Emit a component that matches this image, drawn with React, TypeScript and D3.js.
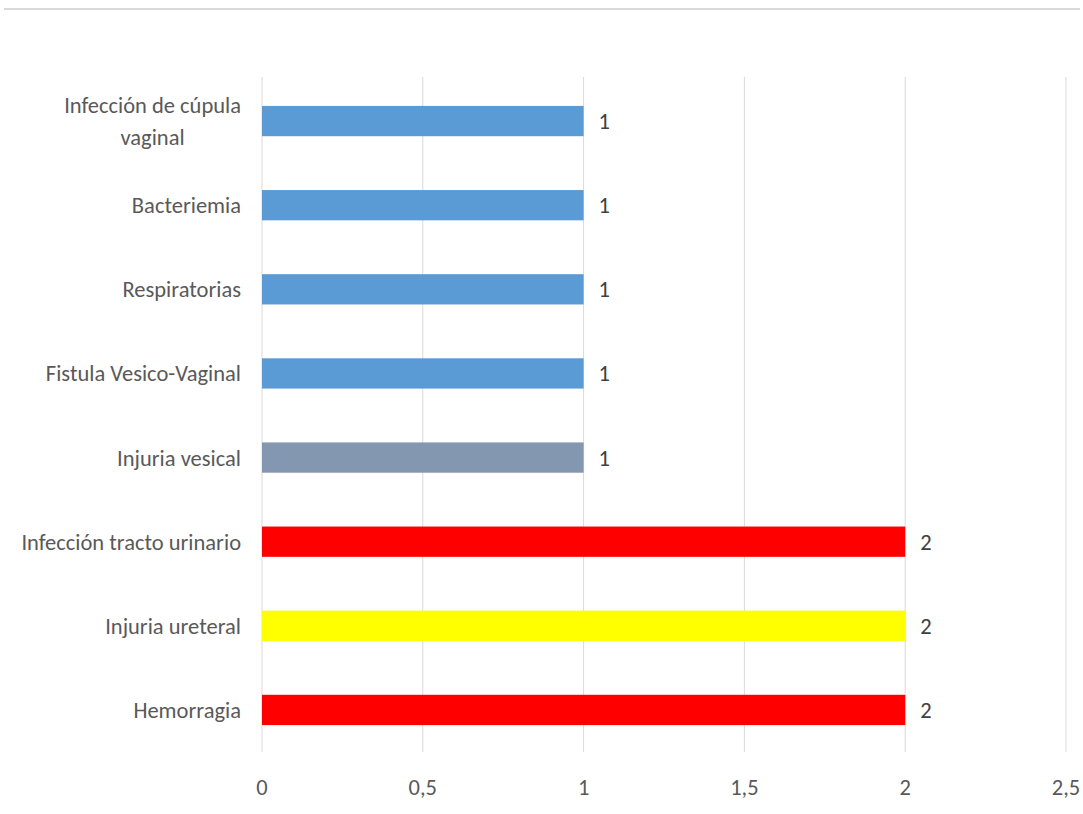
import React, { useEffect, useRef } from "react";
import * as d3 from "d3";

const categories = [
  "Infección de cúpula vaginal",
  "Bacteriemia",
  "Respiratorias",
  "Fistula Vesico-Vaginal",
  "Injuria vesical",
  "Infección tracto urinario",
  "Injuria ureteral",
  "Hemorragia",
];
const values = [1, 1, 1, 1, 1, 2, 2, 2];
const barColors = ["#5B9BD5", "#5B9BD5", "#5B9BD5", "#5B9BD5", "#8497B0", "#FF0000", "#FFFF00", "#FF0000"];
const ticks = [0, 0.5, 1, 1.5, 2, 2.5];

const W = 1083;
const H = 814;
const FONT = "Carlito, Calibri, Lato, sans-serif";
const FS = 22.5;

export default function App() {
  const ref = useRef<SVGSVGElement>(null);
  useEffect(() => {
    const svg = d3.select(ref.current);
    svg.selectAll("*").remove();
    const left = 262, right = 1066, top = 79, bottom = 752;
    const x = d3.scaleLinear().domain([0, 2.5]).range([left, right]);
    const y = d3.scaleBand<string>().domain(categories).range([top, bottom]).paddingInner(0.64).paddingOuter(0.32);

    svg.append("rect").attr("x", 4).attr("y", 8).attr("width", 1076).attr("height", 2).attr("fill", "#D9D9D9");

    const g = svg.append("g");
    g.selectAll("line.grid").data(ticks).enter().append("line")
      .attr("x1", (d) => x(d)).attr("x2", (d) => x(d))
      .attr("y1", 77).attr("y2", 752)
      .attr("stroke", "#D9D9D9").attr("stroke-width", 1);

    g.selectAll("text.tick").data(ticks).enter().append("text")
      .attr("x", (d) => x(d)).attr("y", 795)
      .attr("text-anchor", "middle")
      .attr("font-family", FONT).attr("font-size", FS).attr("fill", "#595959")
      .text((d) => String(d).replace(".", ","));

    g.selectAll("rect.bar").data(categories).enter().append("rect")
      .attr("x", x(0))
      .attr("y", (d) => y(d)!)
      .attr("width", (d, i) => x(values[i]) - x(0))
      .attr("height", y.bandwidth())
      .attr("fill", (d, i) => barColors[i]);

    g.selectAll("text.val").data(categories).enter().append("text")
      .attr("x", (d, i) => x(values[i]) + 15)
      .attr("y", (d) => y(d)! + y.bandwidth() / 2 + 8)
      .attr("font-family", FONT).attr("font-size", FS).attr("fill", "#404040")
      .text((d, i) => String(values[i]));

    categories.forEach((c) => {
      const cy = y(c)! + y.bandwidth() / 2;
      const t = g.append("text")
        .attr("font-family", FONT).attr("font-size", FS).attr("fill", "#595959");
      const words = c.split(" ");
      const lines: string[] = [];
      let cur = "";
      const probe = g.append("text").attr("font-family", FONT).attr("font-size", FS);
      words.forEach((w) => {
        const test = cur ? cur + " " + w : w;
        probe.text(test);
        const len = (probe.node() as SVGTextElement).getComputedTextLength();
        if (len > 230 && cur) {
          lines.push(cur);
          cur = w;
        } else cur = test;
      });
      lines.push(cur);
      probe.remove();
      const cx = 241;
      const lh = 32;
      lines.forEach((ln, i) => {
        t.append("tspan").attr("x", cx).attr("text-anchor", "end")
          .attr("y", cy + 8 + (i - (lines.length - 1) / 2) * lh).text(ln);
      });
      if (lines.length > 1) {
        const node = t.node() as SVGTextElement;
        const widths = Array.from(node.querySelectorAll("tspan")).map((s) => (s as SVGTextContentElement).getComputedTextLength());
        const maxW = Math.max(...widths);
        t.selectAll("tspan").attr("text-anchor", "middle").attr("x", cx - maxW / 2);
      }
    });
  }, []);
  return (
    <svg ref={ref} width={W} height={H} style={{ position: "absolute", left: 0, top: 0, background: "#fff" }} />
  );
}
